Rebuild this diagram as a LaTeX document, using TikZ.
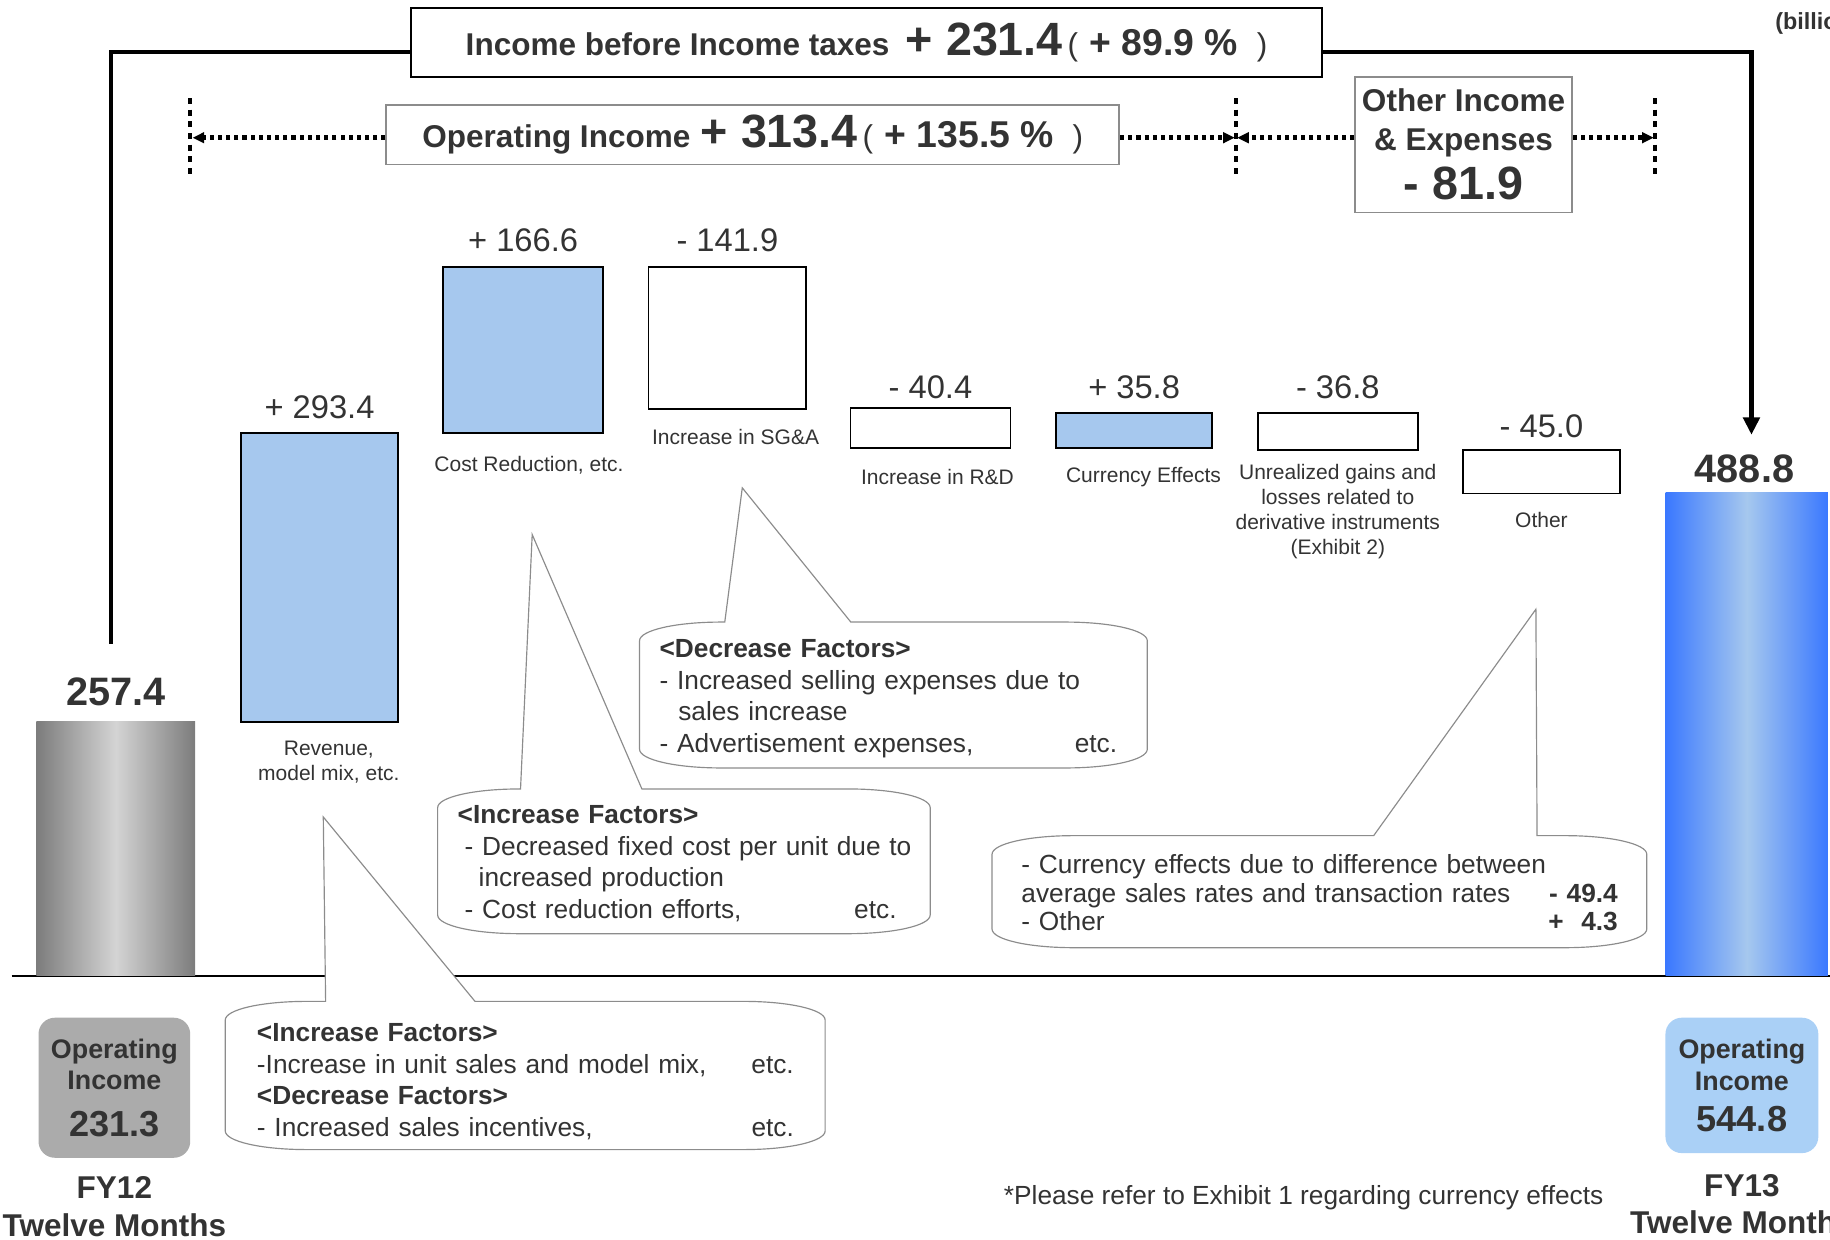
\documentclass[tikz,border=0pt]{standalone}
\usepackage{fontspec}
\setmainfont{Liberation Sans}
\usepackage{tikz}
\usetikzlibrary{arrows.meta, calc, positioning}
\usepackage{xcolor}
\definecolor{barBlue}{HTML}{A6C8EE}
\definecolor{txtGrey}{HTML}{333333}
\definecolor{lineGrey}{HTML}{8C8C8C}
\definecolor{boxGrey}{HTML}{ABABAB}
\definecolor{boxBlue}{HTML}{AAD0F6}
\definecolor{barDeep}{HTML}{3A78FF}
\definecolor{barSteel}{HTML}{7C7C7C}
\definecolor{barSilver}{HTML}{D4D4D4}
\newcommand{\fs}[2]{\fontsize{#1pt}{#2pt}\selectfont}

\begin{document}
\begin{tikzpicture}[x=1pt, y=-1pt,
  headbox/.style={draw=#1, line width=1.5pt, fill=white, inner sep=0pt, text=txtGrey,
                  font=\bfseries\fs{27}{33}},
  headbox/.default=black,
  bar/.style={draw=black, line width=1.5pt, fill=#1, inner sep=0pt, anchor=north west},
  bar/.default=barBlue,
  val/.style={inner sep=0pt, text=txtGrey, font=\fs{28}{32}},
  total/.style={inner sep=0pt, text=txtGrey, font=\bfseries\fs{34}{38}},
  desc/.style={inner sep=0pt, text=txtGrey, font=\fs{18}{21.5}, align=center},
  note/.style={inner sep=0pt, text=txtGrey, font=\fs{22.5}{27}, align=left, text width=#1,
               anchor=north west},
  bubble/.style={draw=lineGrey, line width=1pt, fill=white},
  bracket/.style={line width=4pt, black},
  dotarr/.style={line width=4pt, dash pattern=on 3.5pt off 3.5pt, -{Triangle[length=10pt, width=9pt]}},
  tick/.style={line width=3.5pt, dash pattern=on 5pt off 5pt},
  oibox/.style={rounded corners=14pt, fill=#1, inner sep=0pt, text=txtGrey,
                font=\bfseries\fs{23}{27}, align=center},
  fylab/.style={inner sep=0pt, text=txtGrey, font=\bfseries\fs{27}{32}, align=center}]
  \useasboundingbox (0,0) rectangle (1568,1062);
  \clip (0,0) rectangle (1568,1062);

  % headline boxes
  \node[headbox, minimum width=781pt, minimum height=59pt] (ibt) at (742.5,36.5)
    {Income before Income taxes\hspace{14pt}{\fs{40}{44}+ 231.4}\hspace{4pt}{\mdseries(}\hspace{10pt}{\fs{32}{36}+ 89.9 \%}\hspace{16pt}{\mdseries)}};
  \node[headbox=lineGrey, minimum width=628pt, minimum height=51pt] (opinc) at (645,115.5)
    {Operating Income\hspace{9pt}{\fs{40}{44}+ 313.4}\hspace{4pt}{\mdseries(}\hspace{10pt}{\fs{32}{36}+ 135.5 \%}\hspace{16pt}{\mdseries)}};
  \node[headbox=lineGrey, minimum width=186pt, minimum height=116pt, align=center] (othinc) at (1254,124)
    {Other Income\\\& Expenses\\[8pt]{\fs{40}{40}- 81.9}};
  \node[anchor=west, inner sep=0pt, text=txtGrey, font=\bfseries\fs{20}{24}] (unit) at (1521,20) {(billions of yen)};

  % dotted ranges
  \coordinate (dl) at (163,118);
  \coordinate (dm) at (1059,118);
  \coordinate (dr) at (1418,118);
  \foreach \c in {dl,dm,dr} \draw[tick] ($(\c)+(0,-34)$) -- ($(\c)+(0,32)$);
  \draw[dotarr] (opinc.west |- dl) -- ([xshift=2pt]dl);
  \draw[dotarr] (opinc.east |- dm) -- ([xshift=-1pt]dm);
  \draw[dotarr] (othinc.west |- dm) -- ([xshift=1pt]dm);
  \draw[dotarr] (othinc.east |- dr) -- ([xshift=-1pt]dr);

  % axis
  \draw[line width=2pt] (10,836) -- (1568,836);

  % waterfall bars
  \node[left color=barSteel, right color=barSteel, middle color=barSilver, inner sep=0pt,
        anchor=north west, minimum width=136pt, minimum height=218pt] (fy12bar) at (31,618) {};
  \node[bar, minimum width=134pt, minimum height=248pt] (rev) at (206,370) {};
  \node[bar, minimum width=137pt, minimum height=142pt] (cost) at (379,228) {};
  \node[bar=white, minimum width=135pt, minimum height=122pt] (sga) at (555,228) {};
  \node[bar=white, minimum width=137pt, minimum height=34pt] (rnd) at (728,349) {};
  \node[bar, minimum width=134pt, minimum height=30pt] (fx) at (904,353) {};
  \node[bar=white, minimum width=137pt, minimum height=32pt] (deriv) at (1077,353) {};
  \node[bar=white, minimum width=134pt, minimum height=37pt] (other) at (1253,385) {};
  \node[left color=barDeep, right color=barDeep, middle color=barBlue, inner sep=0pt,
        anchor=north west, minimum width=139pt, minimum height=414pt] (fy13bar) at (1427,422) {};

  % values
  \node[total, above=13pt of fy12bar] (lbl257) {257.4};
  \node[val, above=11pt of rev] (vrev) {+ 293.4};
  \node[val, above=12pt of cost] (vcost) {+ 166.6};
  \node[val, above=12pt of sga] (vsga) {- 141.9};
  \node[val, above=7pt of rnd] (vrnd) {- 40.4};
  \node[val, above=11pt of fx] (vfx) {+ 35.8};
  \node[val, above=11pt of deriv] (vderiv) {- 36.8};
  \node[val, above=10pt of other] (vother) {- 45.0};
  \node[total, above=8pt of fy13bar, xshift=-2pt] (lbl488) {488.8};

  % bar captions
  \node[desc, below=15pt of rev, xshift=8pt] (drev) {Revenue,\\model mix, etc.};
  \node[desc, below=19pt of cost, xshift=5pt] (dcost) {Cost Reduction, etc.};
  \node[desc, below=16pt of sga, xshift=7pt] (dsga) {Increase in SG\&A};
  \node[desc, below=17pt of rnd, xshift=6pt] (drnd) {Increase in R\&D};
  \node[desc, below=16pt of fx, xshift=8pt] (dfx) {Currency Effects};
  \node[desc, below=11pt of deriv] (dderiv) {Unrealized gains and\\losses related to\\derivative instruments\\(Exhibit 2)};
  \node[desc, below=15pt of other] (dother) {Other};

  % net change brackets
  \draw[bracket] ([yshift=-8pt]ibt.west) -| ([xshift=-4pt, yshift=29pt]lbl257.north);
  \draw[bracket, -{Triangle[length=15pt, width=14pt]}] ([yshift=-8pt]ibt.east) -| ([xshift=6pt, yshift=17pt]lbl488.north);

  % callouts
  \coordinate (tiprev) at (277,700);
  \coordinate (tipcost) at (456,458);
  \coordinate (tipsga) at (636,418);
  \coordinate (tipoth) at (1316,522);
  \foreach \xa/\ya/\xb/\yb/\pl/\tip/\pr in {193/858/707/985/279/tiprev/407, 375/676/797/800/446/tipcost/550,
                                           548/533/983/658/621/tipsga/729, 850/716/1411/812/1177/tipoth/1317}
    \draw[bubble] (\xa+70,\ya) -- (\pl,\ya) -- (\tip) -- (\pr,\ya) -- (\xb-70,\ya)
      .. controls (\xb-31,\ya) and (\xb,\ya+7) .. (\xb,\ya+16) -- (\xb,\yb-16)
      .. controls (\xb,\yb-7) and (\xb-31,\yb) .. (\xb-70,\yb) -- (\xa+70,\yb)
      .. controls (\xa+31,\yb) and (\xa,\yb-7) .. (\xa,\yb-16) -- (\xa,\ya+16)
      .. controls (\xa,\ya+7) and (\xa+31,\ya) .. cycle;

  \node[note=460pt] (nrev) at (220,877)
    {\textbf{<Increase Factors>}\\-Increase in unit sales and model mix,\hfill etc.\\
     \textbf{<Decrease Factors>}\\- Increased sales incentives,\hfill etc.};
  \node[note=396pt] (ncost) at (392,690)
    {\textbf{<Increase Factors>}\\\hspace*{6pt}- Decreased fixed cost per unit due to\\
     \hspace*{18pt}increased production\\\hspace*{6pt}- Cost reduction efforts,\hfill etc.\hspace*{20pt}};
  \node[note=392pt] (nsga) at (565,548)
    {\textbf{<Decrease Factors>}\\- Increased selling expenses due to\\
     \hspace*{16pt}sales increase\\- Advertisement expenses,\hfill etc.};
  \node[note=511pt, font=\fs{22.5}{24.5}] (noth) at (875,732)
    {- Currency effects due to difference between\\
     average sales rates and transaction rates\hfill\textbf{- 49.4}\\
     - Other\hfill\textbf{+\ \ 4.3}};

  % period totals
  \node[oibox=boxGrey, minimum width=130pt, minimum height=120pt] (oi12) at (98,932)
    {Operating\\Income\\[13pt]{\fs{31}{31}231.3}};
  \node[fylab, below=16pt of oi12] (fy12) {FY12\\Twelve Months};
  \node[oibox=boxBlue, minimum width=131pt, minimum height=116pt] (oi13) at (1492.5,930)
    {Operating\\Income\\[8pt]{\fs{31}{31}544.8}};
  \node[fylab, below=18pt of oi13] (fy13) {FY13\\Twelve Months};

  \node[anchor=west, inner sep=0pt, text=txtGrey, font=\fs{22.5}{27}] (foot) at (860,1026)
    {*Please refer to Exhibit 1 regarding currency effects};
\end{tikzpicture}
\end{document}
